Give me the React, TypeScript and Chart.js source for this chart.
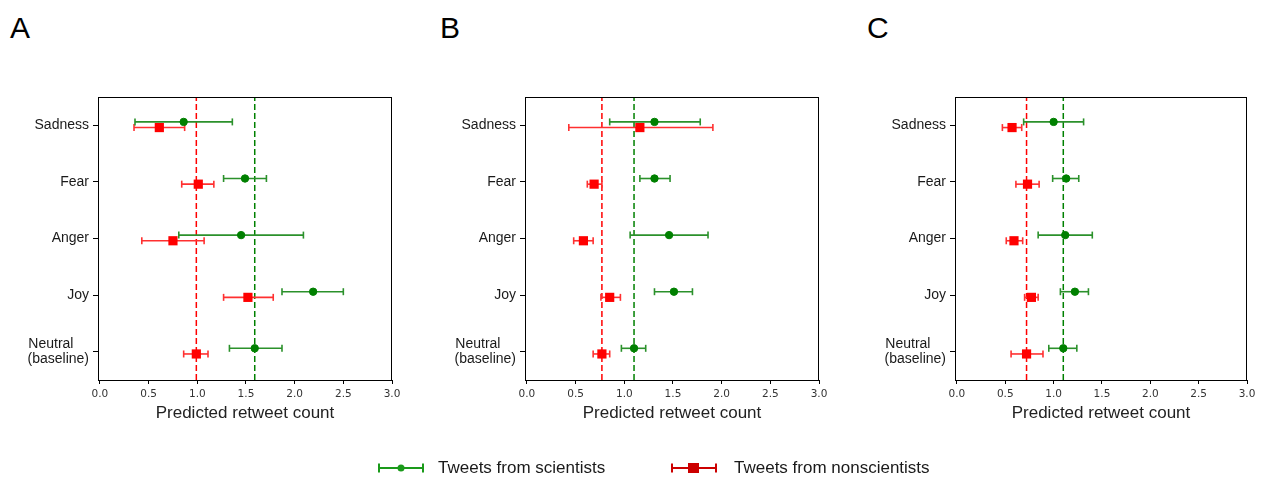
import React, { useEffect, useRef } from 'react';
import { Chart, registerables } from 'chart.js';

Chart.register(...registerables);

// ---------- data ----------
const categories: (string | string[])[] = ['Sadness', 'Fear', 'Anger', 'Joy', ['Neutral', '(baseline)']];
const categoryPositions = [5, 4, 3, 2, 1];
const xTickValues = [0, 0.5, 1.0, 1.5, 2.0, 2.5, 3.0];
const panelLetters = ['A', 'B', 'C'];
const seriesNames = ['Tweets from scientists', 'Tweets from nonscientists'];
const xTitle = 'Predicted retweet count';

// Panel A
const sciA = [0.86, 1.49, 1.45, 2.19, 1.59];
const sciALow = [0.36, 1.27, 0.81, 1.87, 1.33];
const sciAHigh = [1.36, 1.71, 2.09, 2.50, 1.87];
const nonA = [0.61, 1.01, 0.75, 1.52, 0.99];
const nonALow = [0.35, 0.84, 0.43, 1.27, 0.86];
const nonAHigh = [0.87, 1.17, 1.07, 1.78, 1.11];

// Panel B
const sciB = [1.31, 1.31, 1.46, 1.51, 1.10];
const sciBLow = [0.85, 1.16, 1.06, 1.31, 0.97];
const sciBHigh = [1.78, 1.47, 1.86, 1.70, 1.22];
const nonB = [1.16, 0.69, 0.58, 0.85, 0.77];
const nonBLow = [0.43, 0.62, 0.48, 0.76, 0.68];
const nonBHigh = [1.91, 0.77, 0.68, 0.96, 0.85];

// Panel C
const sciC = [1.00, 1.13, 1.12, 1.22, 1.10];
const sciCLow = [0.69, 0.99, 0.84, 1.07, 0.95];
const sciCHigh = [1.31, 1.26, 1.40, 1.36, 1.24];
const nonC = [0.57, 0.73, 0.59, 0.77, 0.72];
const nonCLow = [0.47, 0.61, 0.51, 0.70, 0.56];
const nonCHigh = [0.67, 0.85, 0.68, 0.84, 0.89];

// Baseline (neutral) reference values per panel
const baselineSci = [1.59, 1.10, 1.10];
const baselineNon = [0.99, 0.77, 0.72];

// ---------- styling / layout ----------
const W = 1262;
const H = 479;
const PLOT_TOP = 97;
const PLOT_BOTTOM = 380;
const Y_AXIS_W = 90;
const X_AXIS_H = 50;
const panelBounds = [
  { left: 98, right: 392 },
  { left: 525, right: 819 },
  { left: 955, right: 1247 },
];
const letterX = [10, 440, 867];
const SCI_OFFSET = 0.06;
const NON_OFFSET = -0.04;

const GREEN = '#008000';
const GREEN_BAR = '#2b912b';
const RED = '#ff0000';
const RED_BAR = '#ff3030';
const SANS = "'Liberation Sans', Arial, sans-serif";

const panels = [
  { sci: sciA, sciLow: sciALow, sciHigh: sciAHigh, non: nonA, nonLow: nonALow, nonHigh: nonAHigh },
  { sci: sciB, sciLow: sciBLow, sciHigh: sciBHigh, non: nonB, nonLow: nonBLow, nonHigh: nonBHigh },
  { sci: sciC, sciLow: sciCLow, sciHigh: sciCHigh, non: nonC, nonLow: nonCLow, nonHigh: nonCHigh },
];

const measureCtx = (() => {
  const c = document.createElement('canvas');
  return c.getContext('2d') as CanvasRenderingContext2D;
})();

function leftAlignLines(lines: string[], font: string): string[] {
  measureCtx.font = font;
  const widths = lines.map((l) => measureCtx.measureText(l).width);
  const maxW = Math.max(...widths);
  const sp = measureCtx.measureText(' ').width;
  return lines.map((l, i) => l + ' '.repeat(Math.round((maxW - widths[i]) / sp)));
}

const framePlugin = {
  id: 'frame',
  afterDatasetsDraw(chart: any) {
    const { ctx, chartArea } = chart;
    ctx.save();
    ctx.strokeStyle = '#000';
    ctx.lineWidth = 1;
    ctx.strokeRect(
      Math.round(chartArea.left) + 0.5,
      Math.round(chartArea.top) + 0.5,
      Math.round(chartArea.right - chartArea.left) - 1,
      Math.round(chartArea.bottom - chartArea.top)
    );
    ctx.restore();
  },
};

function errorBarDataset(low: number, high: number, y: number, color: string) {
  return {
    data: [
      { x: low, y },
      { x: high, y },
    ],
    showLine: true,
    borderColor: color,
    borderWidth: 1.6,
    pointStyle: 'line',
    rotation: 90,
    pointRadius: 3.5,
    pointBorderColor: color,
    pointBorderWidth: 1.6,
    backgroundColor: color,
    order: 1,
  };
}

function refLineDataset(x: number, color: string) {
  return {
    data: [
      { x, y: 0.5 },
      { x, y: 5.5 },
    ],
    showLine: true,
    borderColor: color,
    borderWidth: 1.5,
    borderDash: [6, 3],
    pointRadius: 0,
    order: 2,
  };
}

function Panel({ index }: { index: number }) {
  const ref = useRef<HTMLCanvasElement | null>(null);
  useEffect(() => {
    const p = panels[index];
    const b = panelBounds[index];
    const datasets: any[] = [];
    datasets.push({
      label: seriesNames[0],
      data: p.sci.map((v, i) => ({ x: v, y: categoryPositions[i] + SCI_OFFSET })),
      pointStyle: 'circle',
      pointRadius: 3.7,
      borderWidth: 1,
      backgroundColor: GREEN,
      borderColor: GREEN,
      order: 0,
    });
    datasets.push({
      label: seriesNames[1],
      data: p.non.map((v, i) => ({ x: v, y: categoryPositions[i] + NON_OFFSET })),
      pointStyle: 'rect',
      pointRadius: 6.5,
      borderWidth: 0,
      backgroundColor: RED,
      borderColor: RED,
      order: 0,
    });
    p.sci.forEach((_, i) => {
      datasets.push(errorBarDataset(p.sciLow[i], p.sciHigh[i], categoryPositions[i] + SCI_OFFSET, GREEN_BAR));
    });
    p.non.forEach((_, i) => {
      datasets.push(errorBarDataset(p.nonLow[i], p.nonHigh[i], categoryPositions[i] + NON_OFFSET, RED_BAR));
    });
    datasets.push(refLineDataset(baselineSci[index], GREEN));
    datasets.push(refLineDataset(baselineNon[index], RED));

    const yFont = { family: SANS, size: 14, lineHeight: 1.1 };

    const chart = new Chart(ref.current as HTMLCanvasElement, {
      type: 'scatter',
      data: { datasets },
      plugins: [framePlugin],
      options: {
        animation: false,
        responsive: false,
        events: [],
        layout: {
          padding: {
            left: b.left - Y_AXIS_W,
            right: W - b.right,
            top: PLOT_TOP,
            bottom: H - PLOT_BOTTOM - X_AXIS_H,
          },
        },
        plugins: {
          legend: { display: false },
          tooltip: { enabled: false },
        },
        scales: {
          x: {
            type: 'linear',
            min: -0.02,
            max: 3.0,
            afterBuildTicks: (s: any) => {
              s.ticks = xTickValues.map((v) => ({ value: v }));
            },
            afterFit: (s: any) => {
              s.height = X_AXIS_H;
              s.paddingLeft = 0;
              s.paddingRight = 0;
            },
            ticks: {
              autoSkip: false,
              maxRotation: 0,
              padding: 4,
              color: '#333',
              font: { family: "'DejaVu Sans', sans-serif", size: 10.5 },
              callback: (v: any) => Number(v).toFixed(1),
            },
            grid: { drawOnChartArea: false, drawTicks: true, tickLength: 4, color: '#000', lineWidth: 1 },
            border: { display: true, color: '#000', width: 1 },
            title: {
              display: true,
              text: xTitle,
              color: '#222',
              font: { family: SANS, size: 17, lineHeight: 1.2 },
              padding: { top: 0, bottom: 6 },
            },
          },
          y: {
            type: 'linear',
            min: 0.5,
            max: 5.5,
            afterBuildTicks: (s: any) => {
              s.ticks = categoryPositions.map((v) => ({ value: v }));
            },
            afterFit: (s: any) => {
              s.width = Y_AXIS_W;
              s.paddingTop = 0;
              s.paddingBottom = 0;
            },
            ticks: {
              autoSkip: false,
              padding: 4,
              color: '#1a1a1a',
              font: yFont,
              callback: (v: any) => {
                const i = categoryPositions.indexOf(Number(v));
                if (i < 0) return '';
                const lab = categories[i];
                return Array.isArray(lab) ? leftAlignLines(lab, `14px ${SANS}`) : lab;
              },
            },
            grid: { drawOnChartArea: false, drawTicks: true, tickLength: 5, color: '#000', lineWidth: 1 },
            border: { display: true, color: '#000', width: 1 },
          },
        },
      } as any,
    });
    return () => chart.destroy();
  }, [index]);
  return (
    <canvas
      ref={ref}
      width={W}
      height={H}
      style={{ position: 'absolute', left: 0, top: 0, width: W, height: H }}
    />
  );
}

function LegendIcon({ color, marker }: { color: string; marker: 'circle' | 'square' }) {
  return (
    <svg width={46} height={14} style={{ position: 'absolute', left: 0, top: 0 }}>
      <line x1={1} y1={7} x2={45} y2={7} stroke={color} strokeWidth={2} />
      <line x1={1} y1={2.5} x2={1} y2={11.5} stroke={color} strokeWidth={2} />
      <line x1={45} y1={2.5} x2={45} y2={11.5} stroke={color} strokeWidth={2} />
      {marker === 'circle' ? (
        <circle cx={23} cy={7} r={3.5} fill={color} />
      ) : (
        <rect x={17} y={2} width={11} height={10} fill={color} />
      )}
    </svg>
  );
}

export default function App() {
  return (
    <div
      style={{
        position: 'fixed',
        left: 0,
        top: 0,
        width: W,
        height: H,
        background: '#fff',
        overflow: 'hidden',
        fontFamily: SANS,
      }}
    >
      {panelLetters.map((l, i) => (
        <div
          key={l}
          style={{
            position: 'absolute',
            left: letterX[i],
            top: 13,
            fontSize: 30,
            lineHeight: '30px',
            color: '#000',
          }}
        >
          {l}
        </div>
      ))}
      {[0, 1, 2].map((i) => (
        <Panel key={i} index={i} />
      ))}
      <div style={{ position: 'absolute', left: 378, top: 461, width: 46, height: 14 }}>
        <LegendIcon color="#1a9a1a" marker="circle" />
      </div>
      <div
        style={{
          position: 'absolute',
          left: 438,
          top: 458,
          fontSize: 17,
          lineHeight: '20px',
          color: '#1a1a1a',
          whiteSpace: 'nowrap',
        }}
      >
        {seriesNames[0]}
      </div>
      <div style={{ position: 'absolute', left: 671, top: 461, width: 46, height: 14 }}>
        <LegendIcon color="#cc0000" marker="square" />
      </div>
      <div
        style={{
          position: 'absolute',
          left: 734,
          top: 458,
          fontSize: 17,
          lineHeight: '20px',
          color: '#1a1a1a',
          whiteSpace: 'nowrap',
        }}
      >
        {seriesNames[1]}
      </div>
    </div>
  );
}
